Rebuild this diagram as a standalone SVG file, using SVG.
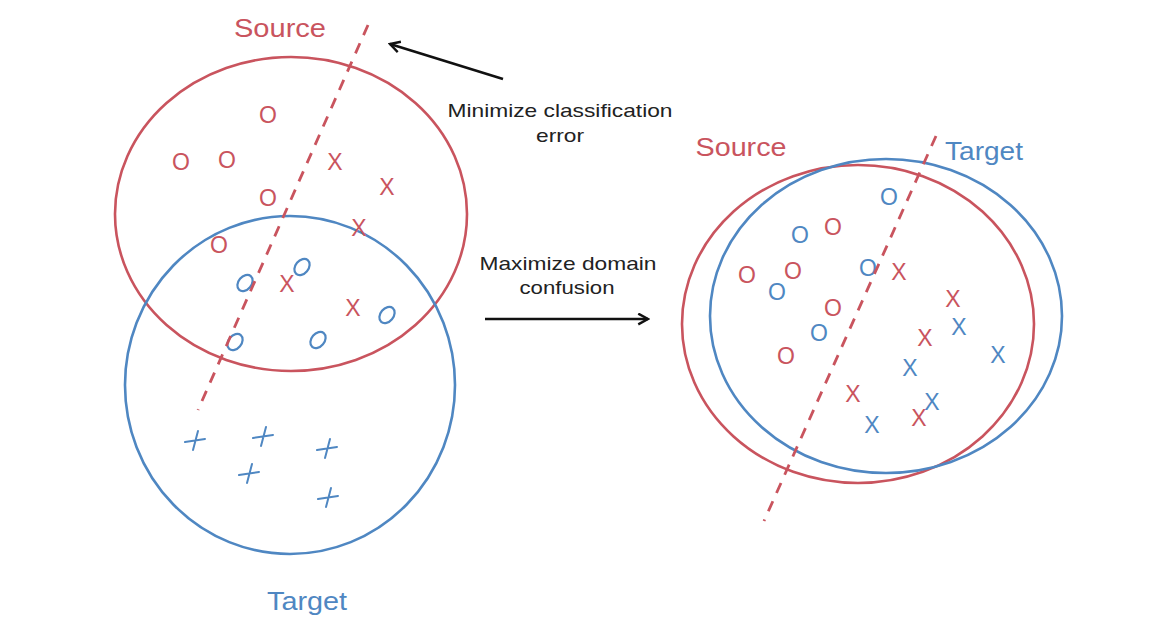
<svg xmlns="http://www.w3.org/2000/svg" width="1166" height="642" viewBox="0 0 1166 642">
<defs>
<style>
.red{fill:none;stroke:#c9545e;stroke-width:2.6}
.blue{fill:none;stroke:#4f87c2;stroke-width:2.6}
.dash{fill:none;stroke:#c9545e;stroke-width:2.8;stroke-dasharray:11 9}
.lbl{font-family:"Liberation Sans",Arial,sans-serif;font-size:25px;text-anchor:middle}
.cap{font-family:"Liberation Sans",Arial,sans-serif;font-size:19px;fill:#222;text-anchor:middle}
.mk{font-family:"Liberation Sans",Arial,sans-serif;font-size:23px;text-anchor:middle}
.r{fill:#c9545e}
.b{fill:#4f87c2}
.arr{fill:none;stroke:#111;stroke-width:2.6}
.bo{fill:none;stroke:#4f87c2;stroke-width:2.2}
.plus{fill:none;stroke:#4f87c2;stroke-width:2;stroke-linecap:round}
</style>
<marker id="ah" viewBox="0 0 12 12" refX="10" refY="6" markerWidth="5" markerHeight="5" orient="auto" markerUnits="strokeWidth">
<path d="M1,1 L10,6 L1,11" fill="none" stroke="#111" stroke-width="2.2"/>
</marker>
</defs>
<rect width="1166" height="642" fill="#fff"/>

<g id="left-source">
<ellipse class="red" cx="291" cy="214" rx="176" ry="157"/>
<text class="lbl r" x="280" y="37" textLength="92" lengthAdjust="spacingAndGlyphs">Source</text>
</g>
<g id="left-target">
<ellipse class="blue" cx="290" cy="385" rx="165" ry="169"/>
<text class="lbl b" x="307" y="610" textLength="80" lengthAdjust="spacingAndGlyphs">Target</text>
</g>

<g id="left-points">
<text class="mk r" x="268" y="123">O</text>
<text class="mk r" x="181" y="170">O</text>
<text class="mk r" x="227" y="168">O</text>
<text class="mk r" x="268" y="206">O</text>
<text class="mk r" x="219" y="253">O</text>
<text class="mk r" x="335" y="170">X</text>
<text class="mk r" x="387" y="195">X</text>
<text class="mk r" x="359" y="236">X</text>
<text class="mk r" x="287" y="292">X</text>
<text class="mk r" x="353" y="316">X</text>
<ellipse class="bo" cx="302" cy="267" rx="6.5" ry="9" transform="rotate(40 302 267)"/>
<ellipse class="bo" cx="245" cy="283" rx="6.5" ry="9" transform="rotate(40 245 283)"/>
<ellipse class="bo" cx="387" cy="315" rx="6.5" ry="9" transform="rotate(40 387 315)"/>
<ellipse class="bo" cx="318" cy="340" rx="6.5" ry="9" transform="rotate(40 318 340)"/>
<ellipse class="bo" cx="235" cy="342" rx="6.5" ry="9" transform="rotate(40 235 342)"/>
<path class="plus" d="M185,442 L205,439 M198,431 L193,450"/>
<path class="plus" d="M253,438 L273,435 M266,427 L261,446"/>
<path class="plus" d="M317,450 L337,447 M330,439 L325,458"/>
<path class="plus" d="M239,475 L259,472 M252,464 L247,483"/>
<path class="plus" d="M318,499 L338,496 M331,488 L326,507"/>
</g>

<g id="right-source">
<ellipse class="red" cx="858" cy="324" rx="176" ry="159"/>
<text class="lbl r" x="741" y="156" textLength="91" lengthAdjust="spacingAndGlyphs">Source</text>
</g>
<g id="right-target">
<ellipse class="blue" cx="886" cy="316" rx="176" ry="157"/>
<text class="lbl b" x="984" y="160" textLength="78" lengthAdjust="spacingAndGlyphs">Target</text>
</g>

<g id="right-points">
<text class="mk b" x="889" y="205">O</text>
<text class="mk b" x="800" y="243">O</text>
<text class="mk b" x="868" y="276">O</text>
<text class="mk b" x="777" y="300">O</text>
<text class="mk b" x="819" y="341">O</text>
<text class="mk r" x="833" y="235">O</text>
<text class="mk r" x="747" y="283">O</text>
<text class="mk r" x="793" y="279">O</text>
<text class="mk r" x="833" y="316">O</text>
<text class="mk r" x="786" y="364">O</text>
<text class="mk r" x="899" y="280">X</text>
<text class="mk r" x="953" y="307">X</text>
<text class="mk r" x="925" y="346">X</text>
<text class="mk r" x="853" y="402">X</text>
<text class="mk r" x="919" y="426">X</text>
<text class="mk b" x="959" y="335">X</text>
<text class="mk b" x="998" y="363">X</text>
<text class="mk b" x="910" y="376">X</text>
<text class="mk b" x="932" y="410">X</text>
<text class="mk b" x="872" y="433">X</text>
</g>

<g id="connectors">
<line class="dash" x1="368" y1="25" x2="198" y2="410"/>
<line class="dash" x1="936" y1="136" x2="764" y2="521"/>
<line class="arr" x1="503" y1="79" x2="390" y2="44" marker-end="url(#ah)"/>
<line class="arr" x1="485" y1="319" x2="648" y2="319" marker-end="url(#ah)"/>
</g>

<g id="captions">
<text class="cap" x="560" y="117" textLength="225" lengthAdjust="spacingAndGlyphs">Minimize classification</text>
<text class="cap" x="560" y="142" textLength="48" lengthAdjust="spacingAndGlyphs">error</text>
<text class="cap" x="568" y="270" textLength="177" lengthAdjust="spacingAndGlyphs">Maximize domain</text>
<text class="cap" x="567" y="294" textLength="95" lengthAdjust="spacingAndGlyphs">confusion</text>
</g>
</svg>
